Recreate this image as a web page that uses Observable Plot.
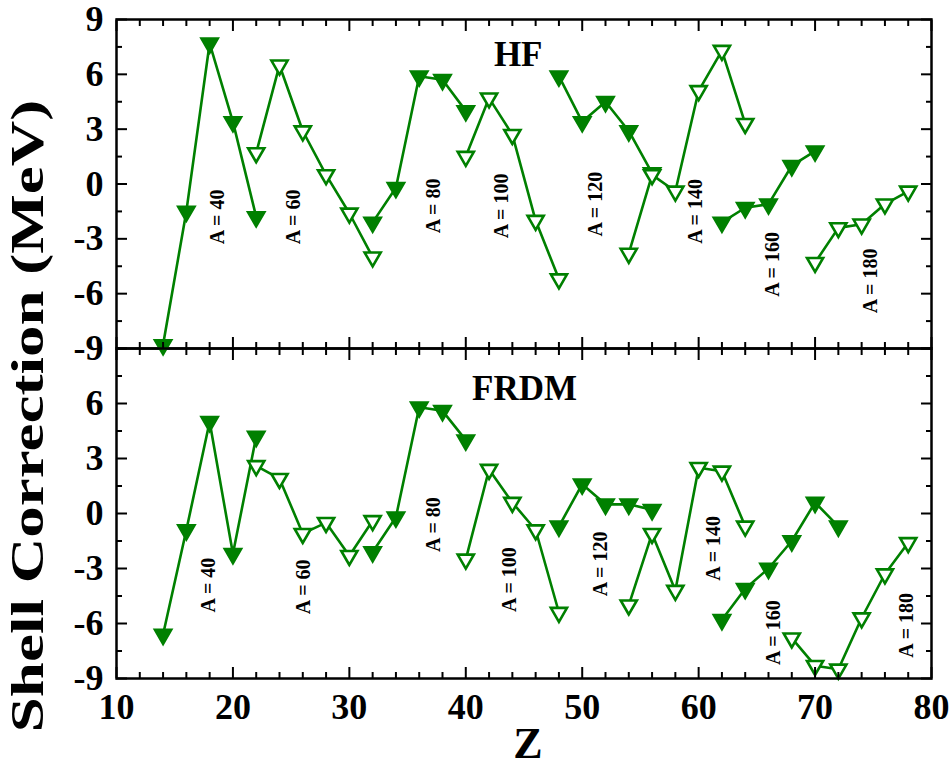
<!DOCTYPE html>
<html><head><meta charset="utf-8">
<script src="https://cdn.jsdelivr.net/npm/d3@7"></script>
<script src="https://cdn.jsdelivr.net/npm/@observablehq/plot@0.6"></script>
<style>
body{margin:0;background:#fff;}
#chart{position:relative;width:951px;height:771px;overflow:hidden;background:#fff;}
#chart svg{position:absolute;left:0;overflow:visible;background:transparent;}
.ttl{position:absolute;font-family:"Liberation Serif","Times New Roman",serif;font-weight:bold;color:#000;white-space:nowrap;line-height:1;}
</style></head><body><div id="chart"></div>
<script>
// ---- data ----
const isobarLabels = ["A = 40","A = 60","A = 80","A = 100","A = 120","A = 140","A = 160","A = 180"];
const filled = [true,false,true,false,true,false,true,false];

const z40 = [14,16,18,20,22];
const z60 = [22,24,26,28,30,32];
const z80 = [32,34,36,38,40];
const z100 = [40,42,44,46,48];
const z120 = [48,50,52,54,56];
const z140 = [54,56,58,60,62,64];
const z160hf = [62,64,66,68,70];
const z160fr = [62,64,66,68,70,72];
const z180hf = [70,72,74,76,78];
const z180fr = [68,70,72,74,76,78];

const hf40 = [-8.8,-1.5,7.7,3.4,-1.8];
const hf60 = [1.7,6.5,2.9,0.5,-1.6,-4.0];
const hf80 = [-2.1,-0.2,5.9,5.7,4.0];
const hf100 = [1.5,4.7,2.7,-2.0,-5.2];
const hf120 = [5.9,3.4,4.5,2.9,0.6];
const hf140 = [-3.8,0.5,-0.4,5.1,7.3,3.3];
const hf160 = [-2.1,-1.3,-1.1,1.0,1.8];
const hf180 = [-4.3,-2.4,-2.2,-1.1,-0.4];

const fr40 = [-6.6,-0.9,5.0,-2.2,4.2];
const fr60 = [2.6,1.9,-1.1,-0.5,-2.3,-0.4];
const fr80 = [-2.1,-0.2,5.8,5.6,4.0];
const fr100 = [-2.5,2.4,0.6,-0.9,-5.4];
const fr120 = [-0.7,1.6,0.5,0.5,0.2];
const fr140 = [-5.0,-1.1,-4.2,2.5,2.3,-0.7];
const fr160 = [-5.8,-4.1,-3.0,-1.5,0.6,-0.7];
const fr180 = [-6.8,-8.3,-8.5,-5.7,-3.3,-1.6];

// label anchor points (data units)
const hfLabelZ = [18.7,25.2,37.25,43.1,51.15,59.75,66.35,74.8];
const hfLabelV = [-1.8,-1.8,-1.2,-1.2,-1.1,-1.5,-4.4,-5.3];
const frLabelZ = [17.9,26.1,37.25,43.8,51.6,61.3,66.4,77.9];
const frLabelV = [-3.9,-4.0,-0.6,-3.6,-2.75,-1.9,-6.5,-6.1];

const xMajor = [10,20,30,40,50,60,70,80];
const xMinor = [12,14,16,18,22,24,26,28,32,34,36,38,42,44,46,48,52,54,56,58,62,64,66,68,72,74,76,78];
const yMajor = [-9,-6,-3,0,3,6,9];
const yMinor = [-7.5,-4.5,-1.5,1.5,4.5,7.5];
const yLabelsTop = [-9,-6,-3,0,3,6,9];
const yLabelsBottom = [-9,-6,-3,0,3,6];

// ---- drawing ----
const GREEN = "#008000";
const FONT = "'Liberation Serif','Times New Roman',serif";
const triDown = {draw(ctx, size){
  const y = Math.sqrt(size/(Math.sqrt(3)*3));
  ctx.moveTo(0, 2*y); ctx.lineTo(-Math.sqrt(3)*y, -y); ctx.lineTo(Math.sqrt(3)*y, -y); ctx.closePath();
}};
const toRows = (zs, vs) => zs.map((z,i) => ({Z: z, v: vs[i]}));

function panel({sets, labelZ, labelV, title, titleZ, titleV, height, marginTop, marginBottom, yLabels, xLabels}) {
  const marks = [];
  sets.forEach(([zs, vs], i) => {
    const rows = toRows(zs, vs);
    marks.push(Plot.line(rows, {x: "Z", y: "v", stroke: GREEN, strokeWidth: 2.6}));
    marks.push(Plot.dot(rows, {x: "Z", y: "v", symbol: triDown, r: 6, fill: filled[i] ? GREEN : "white", stroke: GREEN, strokeWidth: 2.6}));
  });
  const lab = isobarLabels.map((t,i) => ({t, Z: labelZ[i], v: labelV[i]}));
  marks.push(Plot.text(lab, {x: "Z", y: "v", text: "t", rotate: -90, fontSize: 20, fontWeight: "bold", fontFamily: FONT, fill: "black"}));
  marks.push(Plot.text([title], {x: () => titleZ, y: () => titleV, text: d => d, fontSize: 35, fontWeight: "bold", fontFamily: FONT, fill: "black"}));
  const blank = () => "";
  for (const a of ["top","bottom"]) {
    marks.push(Plot.axisX({anchor: a, ticks: xMinor, tickSize: -6, tickFormat: blank, strokeWidth: 2, label: null}));
    marks.push(Plot.axisX({anchor: a, ticks: xMajor, tickSize: -11, tickFormat: blank, strokeWidth: 2, label: null}));
  }
  for (const a of ["left","right"]) {
    marks.push(Plot.axisY({anchor: a, ticks: yMinor, tickSize: -6, tickFormat: blank, strokeWidth: 2, label: null}));
    marks.push(Plot.axisY({anchor: a, ticks: yMajor, tickSize: -11, tickFormat: blank, strokeWidth: 2, label: null}));
  }
  marks.push(Plot.axisY({anchor: "left", ticks: yLabels, tickSize: 0, tickPadding: 13, tickFormat: d => String(d), fontSize: 36, fontWeight: "bold", fontFamily: FONT, label: null}));
  if (xLabels) marks.push(Plot.axisX({anchor: "bottom", ticks: xMajor, tickSize: 0, tickPadding: 15, tickFormat: d => String(d), fontSize: 36, fontWeight: "bold", fontFamily: FONT, label: null}));
  marks.push(Plot.frame({stroke: "black", strokeWidth: 2.5}));
  return Plot.plot({
    width: 951, height, marginLeft: 116, marginRight: 20, marginTop, marginBottom,
    x: {domain: [10, 80], label: null},
    y: {domain: [-9, 9], label: null},
    style: {fontFamily: FONT, color: "black", background: "transparent", overflow: "visible"},
    marks
  });
}

const topPlot = panel({
  sets: [[z40,hf40],[z60,hf60],[z80,hf80],[z100,hf100],[z120,hf120],[z140,hf140],[z160hf,hf160],[z180hf,hf180]],
  labelZ: hfLabelZ, labelV: hfLabelV, title: "HF", titleZ: 44.5, titleV: 7.05,
  height: 348, marginTop: 19, marginBottom: 0, yLabels: yLabelsTop, xLabels: false
});
const bottomPlot = panel({
  sets: [[z40,fr40],[z60,fr60],[z80,fr80],[z100,fr100],[z120,fr120],[z140,fr140],[z160fr,fr160],[z180fr,fr180]],
  labelZ: frLabelZ, labelV: frLabelV, title: "FRDM", titleZ: 45.05, titleV: 6.8,
  height: 423, marginTop: 0, marginBottom: 93, yLabels: yLabelsBottom, xLabels: true
});
const chart = document.getElementById("chart");
bottomPlot.style.top = "348px";
topPlot.style.top = "0px";
chart.appendChild(bottomPlot);
chart.appendChild(topPlot);

const yt = document.createElement("div");
yt.className = "ttl";
yt.textContent = "Shell Correction (MeV)";
yt.style.fontSize = "46px";
yt.style.left = "28px"; yt.style.top = "416px";
yt.style.transform = "translate(-50%,-50%) rotate(-90deg) scaleX(1.37)";
chart.appendChild(yt);

const xt = document.createElement("div");
xt.className = "ttl";
xt.textContent = "Z";
xt.style.fontSize = "44px";
xt.style.left = "528px"; xt.style.top = "722px";
xt.style.transform = "translateX(-50%)";
chart.appendChild(xt);
</script></body></html>
